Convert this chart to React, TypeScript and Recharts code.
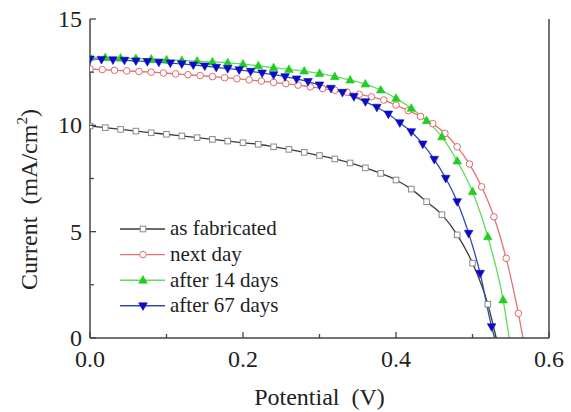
import React from "react";
import { LineChart, Line, XAxis, YAxis, Legend, Label } from "recharts";

// potential (V) / current (mA/cm2)
const fabV = [0, 0.02, 0.04, 0.06, 0.08, 0.1, 0.12, 0.14, 0.16, 0.18, 0.2, 0.22, 0.24, 0.26, 0.28, 0.3, 0.32, 0.34, 0.36, 0.38, 0.4, 0.42, 0.44, 0.46, 0.48, 0.5, 0.52, 0.531];
const fabI = [9.97, 9.89, 9.81, 9.73, 9.65, 9.58, 9.5, 9.42, 9.34, 9.26, 9.18, 9.11, 8.99, 8.87, 8.73, 8.58, 8.42, 8.23, 8.0, 7.74, 7.43, 7.0, 6.41, 5.8, 4.85, 3.52, 1.59, 0];

const nextV = [0, 0.016, 0.032, 0.048, 0.064, 0.08, 0.096, 0.112, 0.128, 0.144, 0.16, 0.176, 0.192, 0.208, 0.224, 0.24, 0.256, 0.272, 0.288, 0.304, 0.32, 0.336, 0.352, 0.368, 0.384, 0.4, 0.416, 0.432, 0.448, 0.464, 0.48, 0.496, 0.512, 0.528, 0.544, 0.56, 0.566];
const nextI = [12.65, 12.62, 12.59, 12.56, 12.53, 12.5, 12.46, 12.42, 12.38, 12.34, 12.29, 12.24, 12.19, 12.14, 12.08, 12.02, 11.96, 11.89, 11.81, 11.73, 11.65, 11.56, 11.46, 11.34, 11.19, 10.95, 10.69, 10.42, 10.08, 9.62, 8.99, 8.18, 7.11, 5.7, 3.75, 1.16, 0];

const d14V = [0, 0.02, 0.04, 0.06, 0.08, 0.1, 0.12, 0.14, 0.16, 0.18, 0.2, 0.22, 0.24, 0.26, 0.28, 0.3, 0.32, 0.34, 0.36, 0.38, 0.4, 0.42, 0.44, 0.46, 0.48, 0.5, 0.52, 0.54, 0.548];
const d14I = [13.2, 13.18, 13.16, 13.14, 13.11, 13.08, 13.05, 13.02, 12.98, 12.94, 12.88, 12.8, 12.71, 12.63, 12.55, 12.44, 12.29, 12.13, 11.94, 11.66, 11.27, 10.8, 10.22, 9.46, 8.32, 6.88, 4.76, 1.79, 0];

const d67V = [0, 0.015, 0.03, 0.045, 0.06, 0.075, 0.09, 0.105, 0.12, 0.135, 0.15, 0.165, 0.18, 0.195, 0.21, 0.225, 0.24, 0.255, 0.27, 0.285, 0.3, 0.315, 0.33, 0.345, 0.36, 0.375, 0.39, 0.405, 0.42, 0.435, 0.45, 0.465, 0.48, 0.495, 0.51, 0.525, 0.529];
const d67I = [13.12, 13.1, 13.08, 13.06, 13.03, 13.0, 12.97, 12.93, 12.89, 12.84, 12.79, 12.73, 12.67, 12.61, 12.54, 12.46, 12.38, 12.29, 12.18, 12.06, 11.9, 11.74, 11.55, 11.35, 11.11, 10.85, 10.53, 10.12, 9.7, 9.12, 8.4, 7.51, 6.41, 4.92, 3.04, 0.53, 0];

const xTicks = [0, 0.1, 0.2, 0.3, 0.4, 0.5, 0.6];
const yTicks = [0, 2.5, 5, 7.5, 10, 12.5, 15];

const FONT = '"Liberation Serif", "DejaVu Serif", "Times New Roman", serif';
const AXIS = "#444";
const TEXT = "#222";

const txt = (size: number) => ({ fontFamily: FONT, fontSize: size, whiteSpace: "pre" as const });

const toRows = (vs: number[], is: number[]) => vs.map((v, k) => ({ v, i: is[k] }));

const series = [
  { name: "as fabricated", data: toRows(fabV, fabI), line: "#3a3a3a", mark: "#8a8a8a", fill: "#fff", shape: "square" },
  { name: "next day", data: toRows(nextV, nextI), line: "#e07272", mark: "#e06a6a", fill: "#fff", shape: "circle" },
  { name: "after 14 days", data: toRows(d14V, d14I), line: "#5fdc5f", mark: "#22cc22", fill: "#22cc22", shape: "up" },
  { name: "after 67 days", data: toRows(d67V, d67I), line: "#3347b0", mark: "#0a0ac8", fill: "#0a0ac8", shape: "down" },
];

function Marker({ shape, cx, cy, stroke, fill }: any) {
  if (shape === "square") {
    return <rect x={cx - 2.8} y={cy - 2.8} width={5.6} height={5.6} fill={fill} stroke={stroke} strokeWidth={1} />;
  }
  if (shape === "circle") {
    return <circle cx={cx} cy={cy} r={3.3} fill={fill} stroke={stroke} strokeWidth={1} />;
  }
  if (shape === "up") {
    return <polygon points={`${cx},${cy - 4.6} ${cx - 4.3},${cy + 3} ${cx + 4.3},${cy + 3}`} fill={fill} stroke={stroke} strokeWidth={0.6} />;
  }
  return <polygon points={`${cx},${cy + 4.6} ${cx - 4.3},${cy - 3} ${cx + 4.3},${cy - 3}`} fill={fill} stroke={stroke} strokeWidth={0.6} />;
}

const makeDot = (s: any) => (p: any) => {
  if (p.payload.i <= 0) return <g key={`e-${p.index}`} />;
  return <Marker key={`m-${p.index}`} shape={s.shape} cx={p.cx} cy={p.cy} stroke={s.mark} fill={s.fill} />;
};

const XTick = (p: any) => {
  const v = p.payload.value;
  const major = Math.round(v * 10) % 2 === 0;
  return (
    <g>
      <line x1={p.x} x2={p.x} y1={p.y} y2={p.y - (major ? 6 : 4)} stroke={AXIS} strokeWidth={1.3} />
      {major && (
        <text x={p.x} y={p.y + 29} textAnchor="middle" fill={TEXT} style={txt(24)}>
          {v.toFixed(1)}
        </text>
      )}
    </g>
  );
};

const YTick = (p: any) => {
  const v = p.payload.value;
  const major = v % 5 === 0;
  return (
    <g>
      <line x1={p.x} x2={p.x + (major ? 6 : 4)} y1={p.y} y2={p.y} stroke={AXIS} strokeWidth={1.3} />
      {major && (
        <text x={p.x - 8} y={p.y} dy="0.34em" textAnchor="end" fill={TEXT} style={txt(24)}>
          {v}
        </text>
      )}
    </g>
  );
};

const RightTick = (p: any) => {
  const major = p.payload.value % 5 === 0;
  return <line x1={p.x} x2={p.x - (major ? 6 : 4)} y1={p.y} y2={p.y} stroke={AXIS} strokeWidth={1.3} />;
};

function LegendBox() {
  return (
    <svg width={200} height={110} style={{ display: "block" }}>
      {series.map((s, k) => {
        const y = 14 + k * 25.6;
        return (
          <g key={s.name}>
            <line x1={10} x2={55} y1={y} y2={y} stroke={s.line} strokeWidth={1.4} />
            <Marker shape={s.shape} cx={33} cy={y} stroke={s.mark} fill={s.fill} />
            <text x={60} y={y} dy="0.3em" fill={TEXT} style={txt(21)}>
              {s.name}
            </text>
          </g>
        );
      })}
    </svg>
  );
}

export default function App() {
  return (
    <div style={{ position: "absolute", left: 0, top: 0, width: 571, height: 412, background: "#fff" }}>
      <LineChart width={571} height={412} margin={{ top: 19, right: 0, bottom: 0, left: 0 }}>
        <XAxis
          dataKey="v"
          type="number"
          domain={[0, 0.6]}
          ticks={xTicks}
          height={74}
          allowDataOverflow
          tickSize={0}
          tickMargin={0}
          tickLine={false}
          tick={<XTick />}
          axisLine={{ stroke: AXIS, strokeWidth: 1.5 }}
        >
          <Label
            content={(p: any) => (
              <text
                x={p.viewBox.x + p.viewBox.width / 2}
                y={p.viewBox.y + 67}
                textAnchor="middle"
                fill={TEXT}
                style={txt(24)}
              >
                {"Potential  (V)"}
              </text>
            )}
          />
        </XAxis>
        <XAxis
          xAxisId="top"
          orientation="top"
          type="number"
          domain={[0, 0.6]}
          height={0}
          tick={false}
          tickLine={false}
          axisLine={{ stroke: AXIS, strokeWidth: 1.5 }}
        />
        <YAxis
          type="number"
          domain={[0, 15]}
          ticks={yTicks}
          width={90}
          allowDataOverflow
          tickSize={0}
          tickMargin={0}
          tickLine={false}
          tick={<YTick />}
          axisLine={{ stroke: AXIS, strokeWidth: 1.5 }}
        >
          <Label
            content={(p: any) => {
              const x = p.viewBox.x + 37;
              const y = p.viewBox.y + p.viewBox.height / 2 + 21;
              return (
                <text
                  x={x}
                  y={y}
                  transform={`rotate(-90, ${x}, ${y})`}
                  textAnchor="middle"
                  fill={TEXT}
                  style={txt(24)}
                >
                  <tspan>{"Current  (mA/cm"}</tspan>
                  <tspan style={{ fontSize: 15 }} dy={-10}>2</tspan>
                  <tspan dy={10}>)</tspan>
                </text>
              );
            }}
          />
        </YAxis>
        <YAxis
          yAxisId="right"
          orientation="right"
          type="number"
          domain={[0, 15]}
          ticks={yTicks}
          width={22}
          tickSize={0}
          tickMargin={0}
          tickLine={false}
          tick={<RightTick />}
          axisLine={{ stroke: AXIS, strokeWidth: 1.5 }}
        />
        {series.map((s) => (
          <Line
            key={s.name}
            data={s.data}
            dataKey="i"
            name={s.name}
            type="monotone"
            stroke={s.line}
            strokeWidth={1.3}
            dot={makeDot(s)}
            activeDot={false}
            isAnimationActive={false}
          />
        ))}
        <Legend
          layout="vertical"
          align="center"
          verticalAlign="middle"
          content={() => <LegendBox />}
          wrapperStyle={{ left: 110, top: 215, width: 200 }}
        />
      </LineChart>
    </div>
  );
}
